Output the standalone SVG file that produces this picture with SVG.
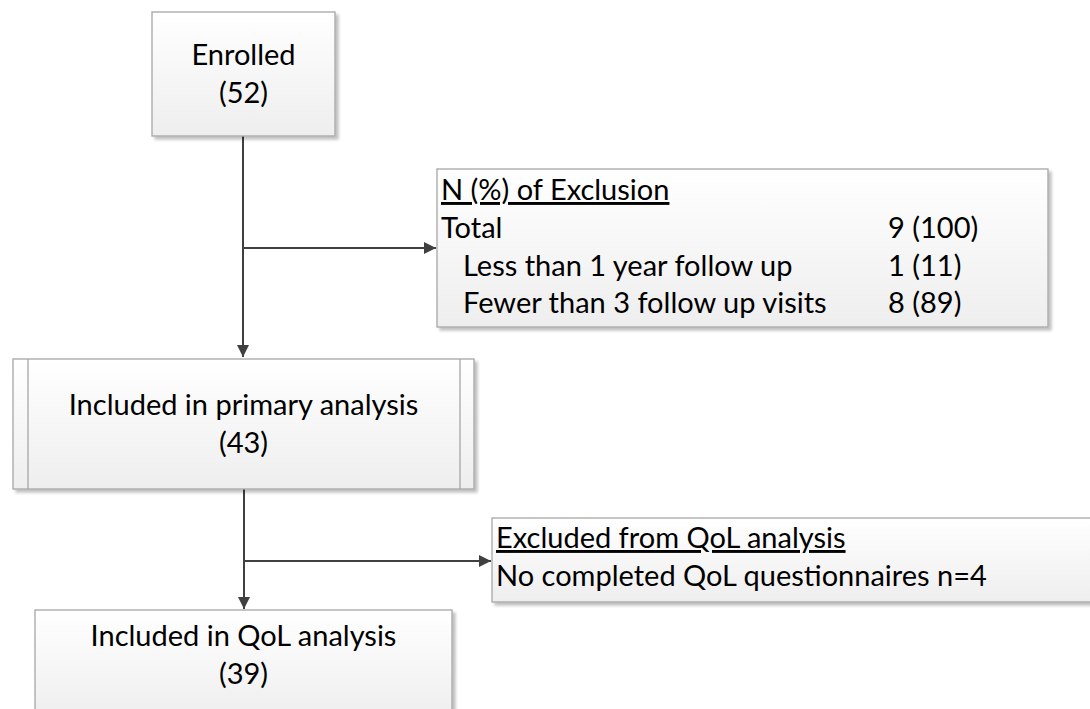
<svg xmlns="http://www.w3.org/2000/svg" width="1090" height="709" viewBox="0 0 1090 709">
<defs>
<linearGradient id="g" x1="0" y1="0" x2="0" y2="1">
<stop offset="0" stop-color="#ffffff"/>
<stop offset="1" stop-color="#eeeeee"/>
</linearGradient>
<filter id="sh" x="-5%" y="-5%" width="115%" height="120%">
<feGaussianBlur in="SourceAlpha" stdDeviation="1.5"/>
<feOffset dx="3" dy="3" result="b"/>
<feComponentTransfer><feFuncA type="linear" slope="0.25"/></feComponentTransfer>
<feMerge><feMergeNode/><feMergeNode in="SourceGraphic"/></feMerge>
</filter>
<marker id="ah" viewBox="0 0 12 12" refX="12" refY="6" markerWidth="12" markerHeight="12" markerUnits="userSpaceOnUse" orient="auto">
<path d="M0,0 L12,6 L0,12 Z" fill="#404040"/>
</marker>
</defs>
<style>
.box{fill:url(#g);stroke:#a6a6a6;stroke-width:1.3;filter:url(#sh)}
.inner{stroke:#a6a6a6;stroke-width:1.3;fill:none}
.t{font-family:Lato,"Liberation Sans",sans-serif;font-size:29px;fill:#000}
.c{text-anchor:middle}
.u{text-decoration:underline}
.con{stroke:#404040;stroke-width:2;fill:none}
</style>
<rect width="1090" height="709" fill="#ffffff"/>
<g id="connectors">
<path class="con" d="M243,136 V357" marker-end="url(#ah)"/>
<path class="con" d="M243,248 H436" marker-end="url(#ah)"/>
<path class="con" d="M244,489 V609" marker-end="url(#ah)"/>
<path class="con" d="M244,561 H491" marker-end="url(#ah)"/>
</g>
<g id="enrolled">
<rect class="box" x="152" y="12" width="183" height="124"/>
<text class="t c" x="243.5" y="65">Enrolled</text>
<text class="t c" x="243.5" y="103">(52)</text>
</g>
<g id="exclusion">
<rect class="box" x="437" y="169" width="611" height="158"/>
<text class="t u" x="441" y="200">N (%) of Exclusion</text>
<text class="t" x="441" y="238">Total</text>
<text class="t" x="888" y="238">9 (100)</text>
<text class="t" x="463" y="276">Less than 1 year follow up</text>
<text class="t" x="888" y="276">1 (11)</text>
<text class="t" x="463" y="313">Fewer than 3 follow up visits</text>
<text class="t" x="888" y="313">8 (89)</text>
</g>
<g id="primary">
<rect class="box" x="13" y="359" width="461" height="130"/>
<line class="inner" x1="28" y1="359" x2="28" y2="489"/>
<line class="inner" x1="460" y1="359" x2="460" y2="489"/>
<text class="t c" x="243.5" y="415">Included in primary analysis</text>
<text class="t c" x="243.5" y="453">(43)</text>
</g>
<g id="excluded-qol">
<rect class="box" x="492" y="518" width="610" height="84"/>
<text class="t u" x="496" y="548">Excluded from QoL analysis</text>
<text class="t" x="496" y="586">No completed QoL questionnaires n=4</text>
</g>
<g id="qol">
<rect class="box" x="35" y="610" width="417" height="110"/>
<text class="t c" x="243.5" y="646">Included in QoL analysis</text>
<text class="t c" x="243.5" y="684">(39)</text>
</g>
</svg>
